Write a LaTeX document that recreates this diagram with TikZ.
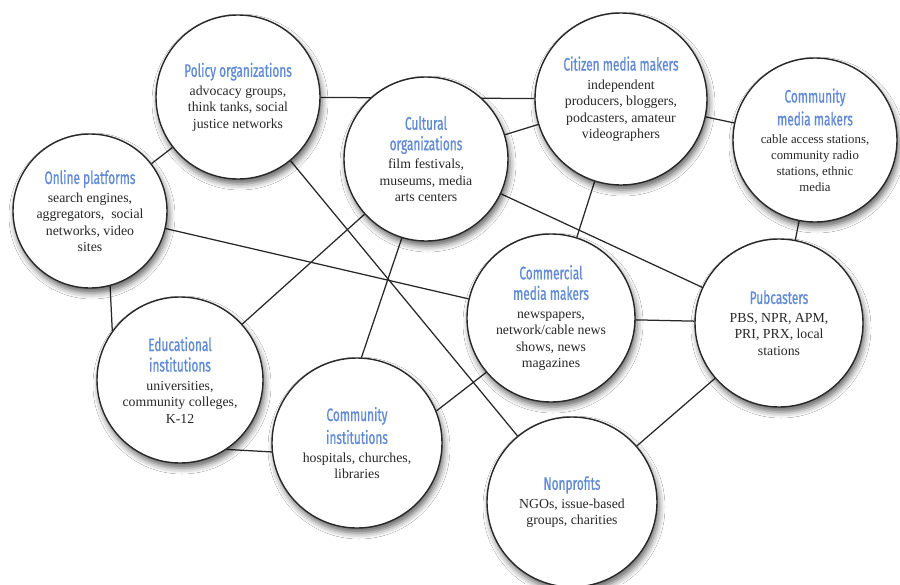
\documentclass[tikz,border=0pt]{standalone}
\usepackage{fontspec}
\setmainfont{Liberation Serif}
\newfontfamily\titlefont[FakeStretch=0.66,FakeBold=0.8]{Fira Sans}
\usetikzlibrary{shadows.blur,backgrounds}
\definecolor{ttlblue}{RGB}{96,138,214}
\definecolor{bodygray}{RGB}{40,40,40}
\definecolor{edgegray}{RGB}{40,40,40}
\newcommand\ttl[1]{{\titlefont\fontsize{18}{21}\selectfont\color{ttlblue}#1}}
\newcommand\bodyfnt{\fontsize{13.8}{16.5}\selectfont}
\newcommand\smallbodyfnt{\fontsize{12.8}{16}\selectfont}
\begin{document}
\begin{tikzpicture}[x=1pt,y=-1pt,
  hub/.style={circle, draw=edgegray, line width=1.4pt, fill=white, inner sep=0pt,
    align=center, font=\bodyfnt, text=bodygray,
    blur shadow={shadow xshift=2pt, shadow yshift=-5pt, shadow blur radius=6pt, shadow opacity=60}},
  link/.style={draw=edgegray, line width=1.25pt}]
\useasboundingbox (0,0) rectangle (900,584);

\node[hub, minimum size=164pt] (policy) at (238,97)
  {\ttl{Policy organizations}\\[2pt]advocacy groups,\\think tanks, social\\justice networks};
\node[hub, minimum size=164pt] (cultural) at (426,159)
  {\ttl{Cultural}\\[4pt]\ttl{organizations}\\[2pt]film festivals,\\museums, media\\arts centers};
\node[hub, minimum size=172pt] (citizen) at (621,99)
  {\ttl{Citizen media makers}\\[2pt]independent\\producers, bloggers,\\podcasters, amateur\\videographers};
\node[hub, minimum size=164pt, font=\smallbodyfnt] (commmedia) at (815,140)
  {\ttl{Community}\\[4pt]\ttl{media makers}\\[2pt]cable access stations,\\community radio\\stations, ethnic\\media};
\node[hub, minimum size=154pt] (online) at (90,211)
  {\ttl{Online platforms}\\[2pt]search engines,\\aggregators,\ \ social\\networks, video\\sites};
\node[hub, minimum size=168pt] (commercial) at (551,318)
  {\ttl{Commercial}\\[4pt]\ttl{media makers}\\[2pt]newspapers,\\network/cable news\\shows, news\\magazines};
\node[hub, minimum size=168pt] (pubcasters) at (779,323)
  {\ttl{Pubcasters}\\[2pt]PBS, NPR, APM,\\PRI, PRX, local\\stations};
\node[hub, minimum size=166pt] (educational) at (180,380)
  {\ttl{Educational}\\[4pt]\ttl{institutions}\\[2pt]universities,\\community colleges,\\K-12};
\node[hub, minimum size=170pt] (comminst) at (357,443)
  {\ttl{Community}\\[4pt]\ttl{institutions}\\[2pt]hospitals, churches,\\libraries};
\node[hub, minimum size=170pt] (nonprofits) at (572,502)
  {\ttl{Nonprofits}\\[2pt]NGOs, issue-based\\groups, charities};

\begin{scope}[on background layer]
  \fill[white] (0,0) rectangle (900,584);
  \draw[link] (policy) -- (citizen);
  \draw[link] (cultural) -- (citizen);
  \draw[link] (citizen) -- (commmedia);
  \draw[link] (commmedia) -- (pubcasters);
  \draw[link] (cultural) -- (pubcasters);
  \draw[link] (citizen) -- (commercial);
  \draw[link] (online) -- (commercial);
  \draw[link] (policy) -- (online);
  \draw[link] (policy) -- (nonprofits);
  \draw[link] (online.-75) -- (educational.144);
  \draw[link] (educational) -- (cultural);
  \draw[link] (cultural.253) -- (comminst.87);
  \draw[link] (comminst.22) -- (commercial.220);
  \draw[link] (educational.-56) -- (comminst.186);
  \draw[link] (commercial) -- (pubcasters);
  \draw[link] (pubcasters) -- (nonprofits);
\end{scope}
\end{tikzpicture}
\end{document}
